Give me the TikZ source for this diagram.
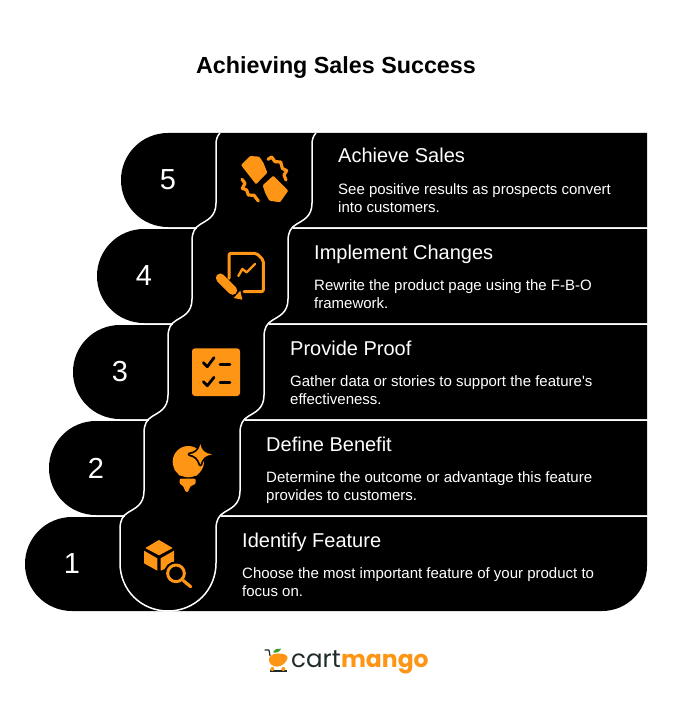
\documentclass[tikz,border=0pt]{standalone}
\usepackage{fontspec}
\setmainfont{Liberation Sans}
\newfontfamily\logofont{Poppins}
\definecolor{accent}{HTML}{FF9514}
\definecolor{logodark}{HTML}{1F2A2A}
\definecolor{leafgreen}{HTML}{3E9B2F}
\tikzset{
  band/.style={fill=black},
  divider/.style={draw=white,line width=1.5pt},
  numlabel/.style={text=white,inner sep=0pt,font=\fontsize{29}{32}\selectfont},
  headlabel/.style={text=white,inner sep=0pt,anchor=west,font=\fontsize{20}{22}\selectfont},
  bodylabel/.style={text=white,inner sep=0pt,anchor=west,align=left,font=\fontsize{15}{18}\selectfont},
  iconfill/.style={fill=accent},
  iconline/.style={draw=accent,line width=3pt,line cap=round,line join=round},
  zoomed/.style={scale=0.33333},
}
\begin{document}
\begin{tikzpicture}[x=1pt,y=-1pt]
\useasboundingbox (0,0) rectangle (672,703);
\fill[white] (0,0) rectangle (672,703);
\node[inner sep=0pt,anchor=base,font=\bfseries\fontsize{23.3}{26}\selectfont] (title) at (336,73.5) {Achieving Sales Success};
% bands
\foreach \i in {0,1,2,3}{
  \begin{scope}[shift={(-24*\i,96*\i)}]
    \fill[band] (168,133) .. controls (142,133) and (121,154) .. (121,180) .. controls (121,206) and (142,227) .. (168,227) -- (647+24*\i,227) -- (647+24*\i,133) -- cycle;
    \fill[band] (197,226.5) rectangle (293,229.5);
  \end{scope}
}
\fill[band] (72,517) .. controls (46,517) and (25,538) .. (25,564) .. controls (25,590) and (46,611) .. (72,611) -- (602,611) .. controls (627,611) and (647,591) .. (647,566) -- (647,517) -- cycle;
% dividers
\foreach \dx in {0,96}{
  \begin{scope}[xshift=\dx]
  \draw[divider] (220,133) .. controls (217,136) and (216,140) .. (216,145)
    -- (216,203) .. controls (216,217) and (207,220) .. (200,224.5) .. controls (195,227.5) and (192,232) .. (192,241)
    -- (192,299) .. controls (192,313) and (183,316) .. (176,320.5) .. controls (171,323.5) and (168,328) .. (168,337)
    -- (168,395) .. controls (168,409) and (159,412) .. (152,416.5) .. controls (147,419.5) and (144,424) .. (144,433)
    -- (144,491) .. controls (144,505) and (135,508) .. (128,512.5) .. controls (123,515.5) and (120,520) .. (120,529);
  \end{scope}
}
\draw[divider] (120,529) -- (120,563) .. controls (120,590) and (141,611) .. (168,611) .. controls (195,611) and (216,590) .. (216,563) -- (216,529);
% numbers
\node[numlabel] (n5) at (168,180) {5};
\node[numlabel] (n4) at (144,276) {4};
\node[numlabel] (n3) at (120,372) {3};
\node[numlabel] (n2) at (96,468) {2};
\node[numlabel] (n1) at (72,564) {1};
% text
\node[headlabel] (h5) at (338,158.6) {\strut Achieve Sales};
\node[bodylabel] (b5) at (338,199.5) {\strut See positive results as prospects convert\\\strut into customers.};
\node[headlabel] (h4) at (314,254.6) {\strut Implement Changes};
\node[bodylabel] (b4) at (314,295.5) {\strut Rewrite the product page using the F-B-O\\\strut framework.};
\node[headlabel] (h3) at (290,350.6) {\strut Provide Proof};
\node[bodylabel] (b3) at (290,391.5) {\strut Gather data or stories to support the feature\textquotesingle s\\\strut effectiveness.};
\node[headlabel] (h2) at (266,446.6) {\strut Define Benefit};
\node[bodylabel] (b2) at (266,487.5) {\strut Determine the outcome or advantage this feature\\\strut provides to customers.};
\node[headlabel] (h1) at (242,542.6) {\strut Identify Feature};
\node[bodylabel] (b1) at (242,583.5) {\strut Choose the most important feature of your product to\\\strut focus on.};
% icon 5 (coordinates of the crop at 230,150)
\begin{scope}[shift={(230,150)},zoomed]
  \fill[iconfill,rounded corners=1pt] (33,45) -- (60,18) -- (88,20) -- (100,38) -- (112,68) -- (78,103) -- cycle;
  \fill[iconfill,rounded corners=1pt] (98,106) -- (130,77) -- (175,122) -- (150,157) -- (118,152) -- (106,130) -- cycle;
  \draw[iconline,line width=3.2pt] (114,28) -- (125,21) -- (135,35) -- (152,36) -- (157,55) -- (170,62) -- (162,75) -- (168,90);
  \draw[iconline,line width=3.2pt] (36,88) -- (45,100) -- (37,115) -- (50,120) -- (55,135) -- (72,136) -- (85,153);
\end{scope}
% icon 4 (coordinates of the crop at 110,125)
\begin{scope}[shift={(110,125)},zoomed]
  \draw[iconline,rounded corners=2pt] (357,460) -- (357,385) -- (440,385) -- (460,405) -- (460,500) -- (402,500);
  \draw[iconline,line width=2.4pt] (385,453) -- (397,432) -- (410,442) -- (435,417);
  \draw[accent,line width=9pt,line cap=round] (331,459) -- (368,496);
  \fill[iconfill] (371,519) -- (397,524) -- (391,497) -- cycle;
\end{scope}
% icons 3, 2, 1 (coordinates of the crop at 20,320)
\begin{scope}[shift={(20,320)},zoomed]
  \fill[iconfill,rounded corners=3pt] (516,85) rectangle (660,228);
  \draw[black,line width=2.8pt,line cap=round,line join=round] (550,128) -- (562,140) -- (582,113);
  \draw[black,line width=2.8pt,line cap=round,line join=round] (550,185) -- (562,197) -- (582,172);
  \draw[black,line width=2.8pt,line cap=round] (600,133) -- (630,133);
  \draw[black,line width=2.8pt,line cap=round] (600,188) -- (630,188);
  % bulb
  \fill[iconfill] (505,425) circle[radius=47];
  \fill[iconfill] (463,448) -- (545,448) -- (530,467) -- (479,467) -- cycle;
  \fill[iconfill,rounded corners=1pt] (479,476) -- (527,476) -- (527,491) -- (511,499) -- (504,516) -- (497,516) -- (490,499) -- (479,491) -- cycle;
  \path[fill=black,draw=black,line width=3.5pt,line join=round] (541,372) .. controls (545,392) and (555,400) .. (576,403) .. controls (555,407) and (547,415) .. (541,434) .. controls (535,415) and (527,407) .. (508,403) .. controls (527,400) and (537,392) .. (541,372) -- cycle;
  \fill[iconfill] (541,372) .. controls (545,392) and (555,400) .. (576,403) .. controls (555,407) and (547,415) .. (541,434) .. controls (535,415) and (527,407) .. (508,403) .. controls (527,400) and (537,392) .. (541,372) -- cycle;
  % box and magnifier
  \fill[iconfill] (417,660) -- (458,684) -- (417,706) -- (376,684) -- cycle;
  \fill[iconfill] (372,692) -- (412,715) -- (412,752) -- (372,730) -- cycle;
  \fill[iconfill] (422,715) -- (462,692) -- (462,735) -- (422,752) -- cycle;
  \fill[black] (468,760) circle[radius=36];
  \draw[iconline,line width=3pt] (468,760) circle[radius=25];
  \draw[iconline,line width=3.2pt] (490,782) -- (512,800);
\end{scope}
% logo (coordinates of the crop at 250,635)
\begin{scope}[shift={(250,635)},zoomed]
  \draw[logodark,line width=1.2pt,line cap=round,line join=round] (45,45) -- (57,45) -- (60,62);
  \draw[logodark,line width=1.1pt] (60,108) -- (110,108);
  \fill[leafgreen] (69,52) .. controls (74,42) and (84,39) .. (93,41) .. controls (90,50) and (80,55) .. (69,52) -- cycle;
  \fill[accent] (57,70) .. controls (62,56) and (80,54) .. (95,56) .. controls (106,58) and (114,62) .. (113,68) .. controls (110,82) and (96,95) .. (80,95) .. controls (66,95) and (55,84) .. (57,70) -- cycle;
  \fill[accent] (67,102) circle[radius=6];
  \fill[accent] (100,102) circle[radius=6];
\end{scope}
\node[inner sep=0pt,anchor=base west,text=logodark,font=\logofont\fontsize{24.5}{26}\selectfont] (cart) at (291,667) {cart};
\node[inner sep=0pt,anchor=base west,text=accent,font=\logofont\bfseries\fontsize{23.5}{26}\selectfont] (mango) at (cart.base east) {mango};
\end{tikzpicture}
\end{document}
